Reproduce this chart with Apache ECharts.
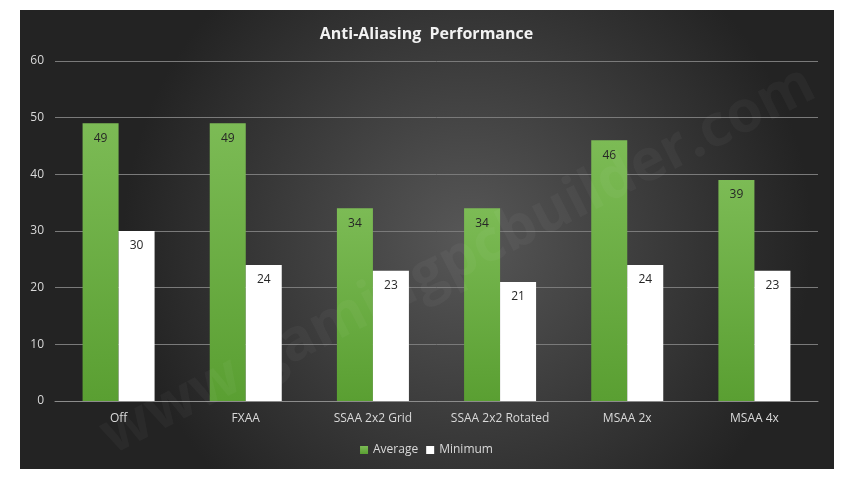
<!DOCTYPE html>
<html>
<head>
<meta charset="utf-8">
<script src="https://cdn.jsdelivr.net/npm/echarts@6/dist/echarts.min.js"></script>
<style>
  html, body { margin: 0; padding: 0; background: #fff; }
  #chart { width: 853px; height: 479px; }
</style>
</head>
<body>
<div id="chart"></div>
<script>
var categories = ['Off', 'FXAA', 'SSAA 2x2 Grid', 'SSAA 2x2 Rotated', 'MSAA 2x', 'MSAA 4x'];
var averageValues = [49, 49, 34, 34, 46, 39];
var minimumValues = [30, 24, 23, 21, 24, 23];

var chart = echarts.init(document.getElementById('chart'));

var op = {
    backgroundColor: '#fff',
    graphic: [
        {
            type: 'rect',
            z: -10,
            shape: { x: 20, y: 10, width: 814, height: 459 },
            style: {
                fill: {
                    type: 'radial', x: 0.55, y: 0.5, r: 0.75,
                    colorStops: [
                        { offset: 0, color: '#575757' },
                        { offset: 1, color: '#232323' }
                    ]
                }
            },
            silent: true
        },
        {
            type: 'text',
            z: 100,
            x: 105, y: 440,
            rotation: 0.47,
            style: {
                text: 'www.gamingpcbuilder.com',
                fill: 'rgba(255,255,255,0.035)',
                font: 'bold 58px "Open Sans"',
                verticalAlign: 'middle'
            },
            silent: true
        }
    ],
    title: {
        text: 'Anti-Aliasing  Performance',
        left: 'center',
        top: 21,
        textStyle: {
            color: '#f2f2f2',
            fontFamily: 'Open Sans',
            fontWeight: 'bold',
            fontSize: 16
        }
    },
    legend: {
        bottom: 18,
        left: 'center',
        itemWidth: 8,
        itemHeight: 8,
        itemGap: 8,
        icon: 'rect',
        textStyle: { color: '#d9d9d9', fontFamily: 'Open Sans', fontSize: 12 },
        data: ['Average', 'Minimum']
    },
    grid: {
        left: 55,
        right: 35,
        top: 61,
        bottom: 78
    },
    xAxis: {
        type: 'category',
        data: categories,
        axisLine: { lineStyle: { color: '#8c8c8c' } },
        axisTick: { show: false },
        axisLabel: { interval: 0, color: '#d9d9d9', fontFamily: 'Open Sans', fontSize: 12, margin: 12 }
    },
    yAxis: {
        type: 'value',
        min: 0,
        max: 60,
        interval: 10,
        axisLine: { show: false },
        axisTick: { show: false },
        axisLabel: { color: '#d9d9d9', fontFamily: 'Open Sans', fontSize: 12, margin: 11 },
        splitLine: { lineStyle: { color: '#7a7a7a' } }
    },
    series: [
        {
            name: 'Average',
            type: 'bar',
            barWidth: 36,
            barGap: '0%',
            data: averageValues,
            itemStyle: {
                color: {
                    type: 'linear', x: 0, y: 0, x2: 0, y2: 1,
                    colorStops: [
                        { offset: 0, color: '#7cbb55' },
                        { offset: 1, color: '#5a9f32' }
                    ]
                }
            },
            label: {
                show: true,
                position: 'insideTop',
                distance: 9,
                color: '#262626',
                fontFamily: 'Open Sans',
                fontSize: 12
            }
        },
        {
            name: 'Minimum',
            type: 'bar',
            barWidth: 36,
            data: minimumValues,
            itemStyle: { color: '#ffffff' },
            label: {
                show: true,
                position: 'insideTop',
                distance: 9,
                color: '#262626',
                fontFamily: 'Open Sans',
                fontSize: 12
            }
        }
    ]
};

chart.setOption(op);
</script>
</body>
</html>
